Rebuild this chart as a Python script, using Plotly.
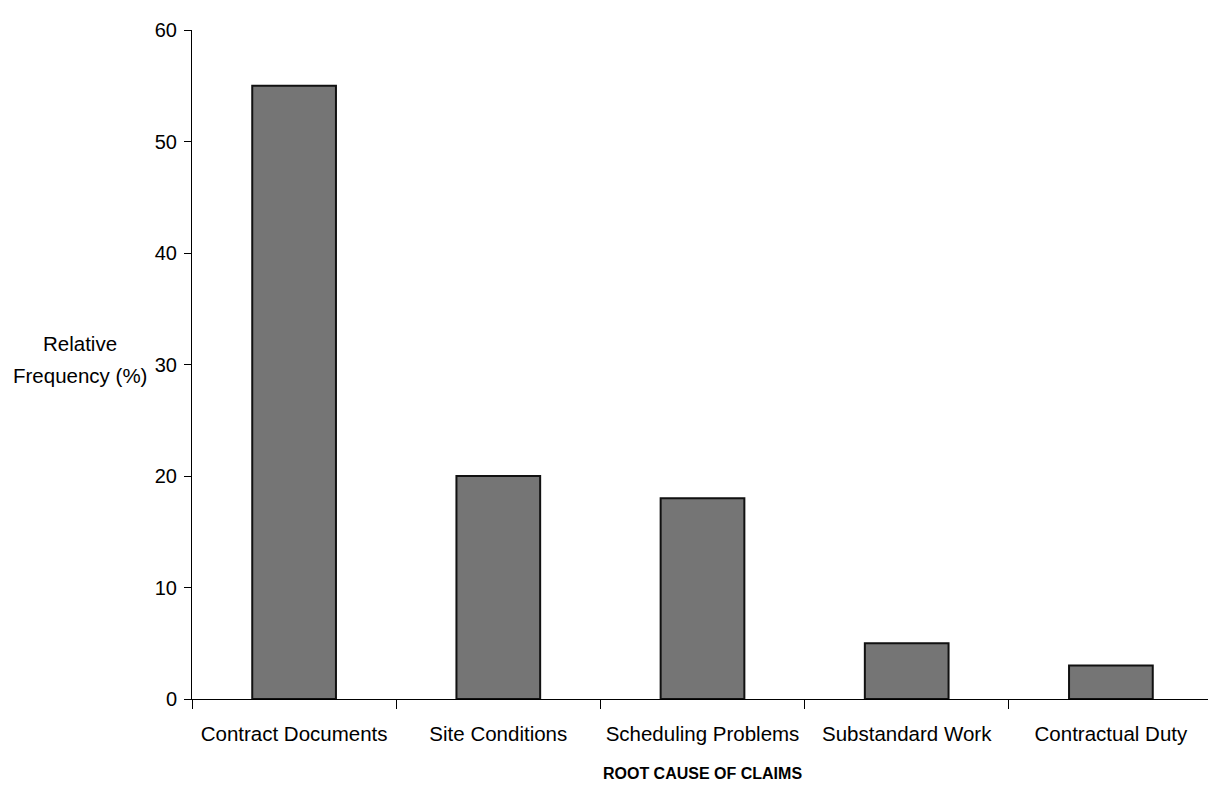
import plotly.graph_objects as go

categories = ["Contract Documents", "Site Conditions", "Scheduling Problems", "Substandard Work", "Contractual Duty"]
values = [55, 20, 18, 5, 3]
y_ticks = [0, 10, 20, 30, 40, 50, 60]

fig = go.Figure(go.Bar(
    x=categories, y=values, width=0.41,
    marker=dict(color="#757575", line=dict(color="#111111", width=2)),
))

font = "Liberation Sans, Arial, sans-serif"
fig.update_layout(
    width=1216, height=790,
    margin=dict(l=184, r=11, t=14, b=99),
    plot_bgcolor="white", paper_bgcolor="white",
    showlegend=False,
    font=dict(family=font, size=20, color="black"),
    xaxis=dict(showline=True, linecolor="black", linewidth=1, ticks="outside",
               tickson="boundaries", ticklen=9, tickcolor="black",
               tickfont=dict(size=20.5), showgrid=False, ticklabelstandoff=16,
               title=dict(text="<b>ROOT CAUSE OF CLAIMS</b>", font=dict(size=16), standoff=24)),
    yaxis=dict(range=[0, 60], tickvals=y_ticks, showline=True, linecolor="black",
               linewidth=1, ticks="outside", ticklen=7, tickcolor="black",
               showgrid=False, zeroline=False, tickfont=dict(size=20), ticklabelstandoff=3),
    annotations=[
        dict(text="Relative", xref="paper", yref="y", x=0, y=31.9, xanchor="center",
             yanchor="middle", xshift=-112, showarrow=False, font=dict(size=20.5)),
        dict(text="Frequency (%)", xref="paper", yref="y", x=0, y=29.0, xanchor="center",
             yanchor="middle", xshift=-112, showarrow=False, font=dict(size=20.5)),
    ],
)

fig.write_html("out.html")
